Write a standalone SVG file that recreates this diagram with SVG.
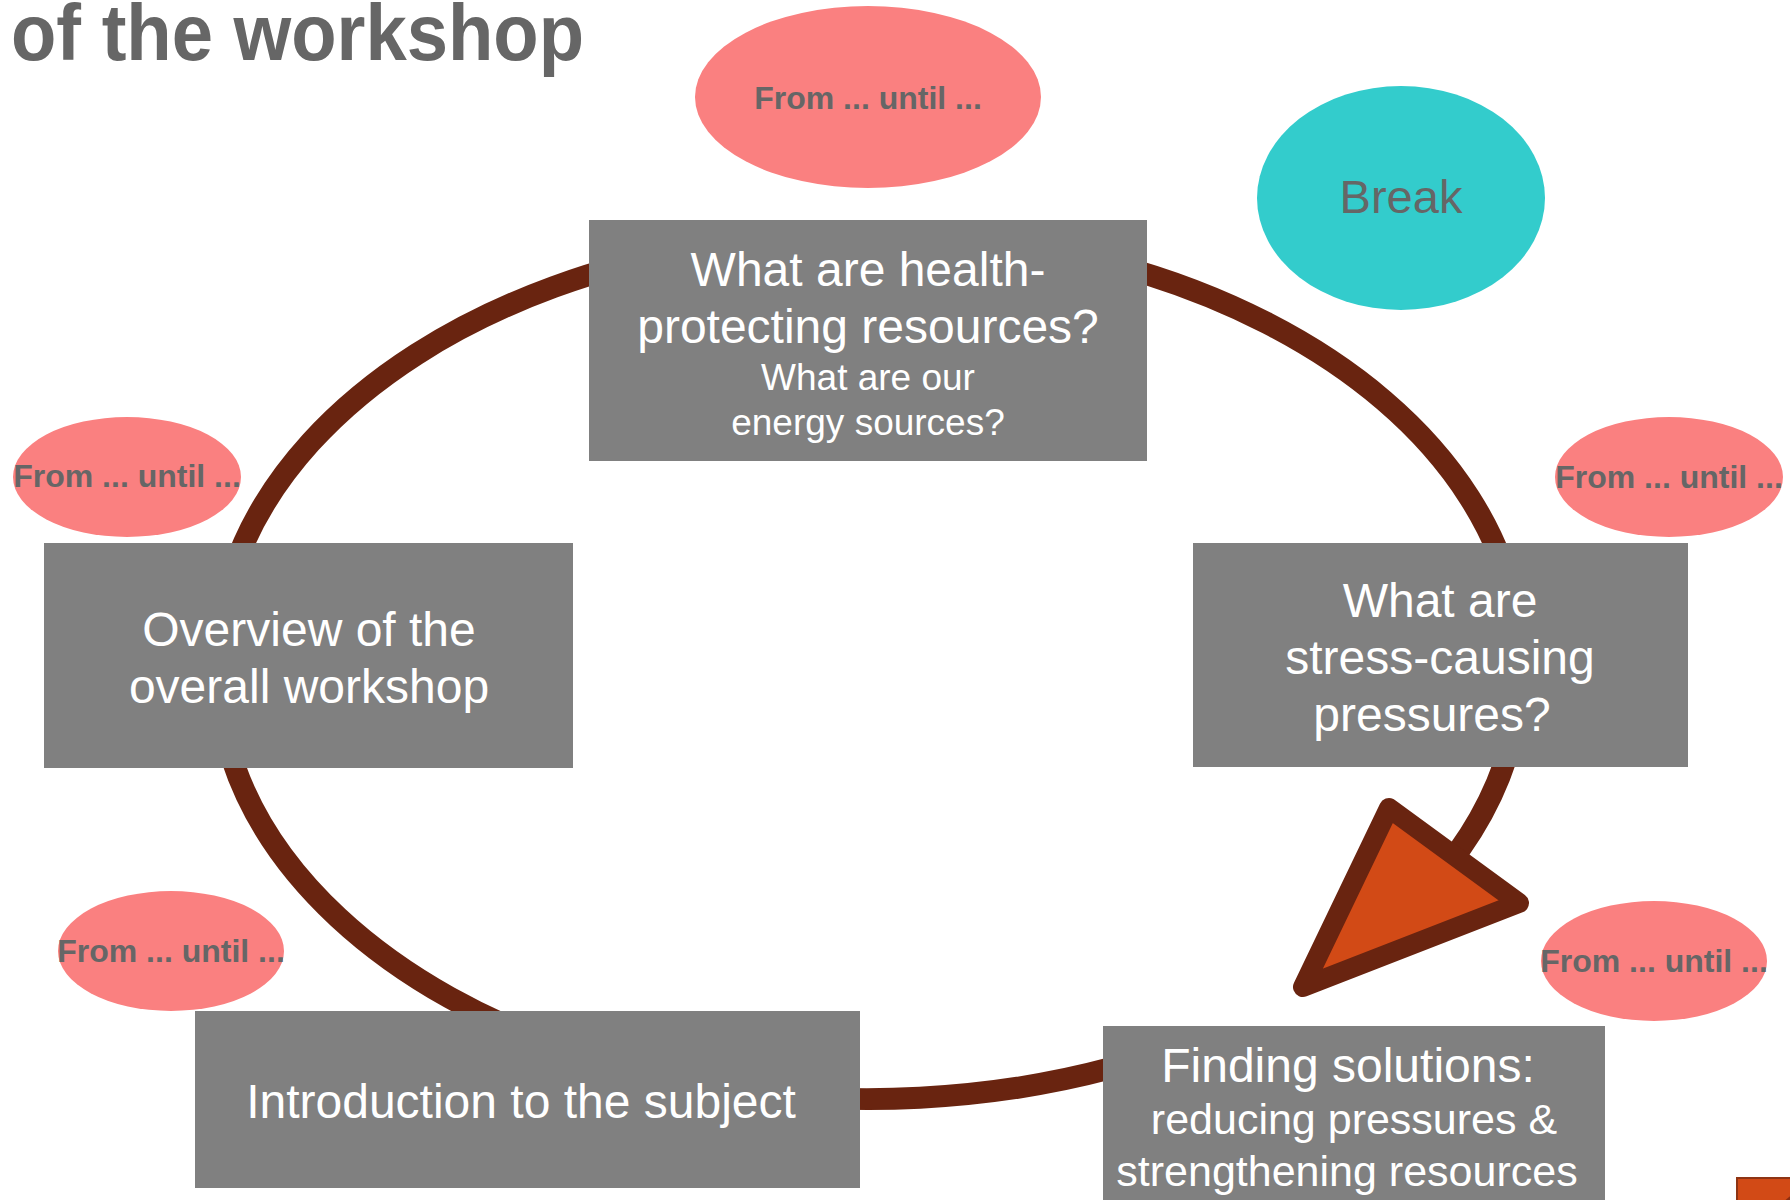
<svg xmlns="http://www.w3.org/2000/svg" width="1790" height="1200" viewBox="0 0 1790 1200">
  <style>
    .box { fill: #808080; }
    .boxtxt { font-family: "Liberation Sans", Arial, sans-serif; fill: #ffffff; text-anchor: middle; }
    .big { font-size: 48px; }
    .time { fill: #FA8080; }
    .timetxt { font-family: "Liberation Sans", Arial, sans-serif; font-weight: bold; font-size: 32px; fill: #666666; text-anchor: middle; }
    .ring { fill: none; stroke: #692410; stroke-width: 22; }
    .head { fill: #D24A16; stroke: #692410; stroke-width: 20; stroke-linejoin: round; }
  </style>

  <rect width="1790" height="1200" fill="#ffffff"/>

  <!-- title (second line) -->
  <text x="11" y="60" font-family="Liberation Sans, Arial, sans-serif" font-weight="bold" font-size="80" fill="#666666" textLength="573" lengthAdjust="spacingAndGlyphs">of the workshop</text>

  <!-- cycle connector with arrowhead -->
  <g id="connectors">
    <path class="ring" d="M 1200 1039.1 A 652 433 0 1 1 1417.6 900"/>
    <polygon class="head" points="1389,808 1519,903 1303,987"/>
  </g>

  <!-- time slots -->
  <g id="time-top">
    <ellipse class="time" cx="868" cy="97" rx="173" ry="91"/>
    <text class="timetxt" x="868" y="109">From ... until ...</text>
  </g>
  <g id="time-left">
    <ellipse class="time" cx="127" cy="477" rx="114" ry="60"/>
    <text class="timetxt" x="127" y="487">From ... until ...</text>
  </g>
  <g id="time-right">
    <ellipse class="time" cx="1669" cy="477" rx="114" ry="60"/>
    <text class="timetxt" x="1669" y="488">From ... until ...</text>
  </g>
  <g id="time-bottom-left">
    <ellipse class="time" cx="171" cy="951" rx="113" ry="60"/>
    <text class="timetxt" x="171" y="962">From ... until ...</text>
  </g>
  <g id="time-bottom-right">
    <ellipse class="time" cx="1654" cy="961" rx="113" ry="60"/>
    <text class="timetxt" x="1654" y="972">From ... until ...</text>
  </g>

  <!-- break -->
  <g id="break">
    <ellipse cx="1401" cy="198" rx="144" ry="112" fill="#33CCCC"/>
    <text x="1401" y="213" font-family="Liberation Sans, Arial, sans-serif" font-size="47" fill="#666666" text-anchor="middle">Break</text>
  </g>

  <!-- workshop steps -->
  <g id="step-resources">
    <rect class="box" x="589" y="220" width="558" height="241"/>
    <text class="boxtxt big" x="868" y="286">What are health-</text>
    <text class="boxtxt big" x="868" y="343">protecting resources?</text>
    <text class="boxtxt" font-size="37" x="868" y="390">What are our</text>
    <text class="boxtxt" font-size="37" x="868" y="435">energy sources?</text>
  </g>
  <g id="step-overview">
    <rect class="box" x="44" y="543" width="529" height="225"/>
    <text class="boxtxt big" x="309" y="646">Overview of the</text>
    <text class="boxtxt big" x="309" y="703">overall workshop</text>
  </g>
  <g id="step-pressures">
    <rect class="box" x="1193" y="543" width="495" height="224"/>
    <text class="boxtxt big" x="1440" y="617">What are</text>
    <text class="boxtxt big" x="1440" y="674">stress-causing</text>
    <text class="boxtxt big" x="1432" y="731">pressures?</text>
  </g>
  <g id="step-intro">
    <rect class="box" x="195" y="1011" width="665" height="177"/>
    <text class="boxtxt big" x="521" y="1118">Introduction to the subject</text>
  </g>
  <g id="step-solutions">
    <rect class="box" x="1103" y="1026" width="502" height="180"/>
    <text class="boxtxt big" x="1348" y="1082">Finding solutions:</text>
    <text class="boxtxt" font-size="43" x="1354" y="1134">reducing pressures &amp;</text>
    <text class="boxtxt" font-size="43" x="1347" y="1186">strengthening resources</text>
  </g>

  <!-- corner badge -->
  <g id="corner-badge">
    <rect x="1737" y="1178" width="60" height="30" fill="#D24A16" stroke="#8E3414" stroke-width="2"/>
    <circle cx="1812" cy="1226" r="37" fill="#8A2E12"/>
  </g>
</svg>
